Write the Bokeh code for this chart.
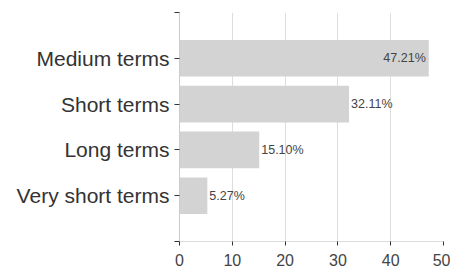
from bokeh.plotting import figure
from bokeh.models import ColumnDataSource, Range1d, FixedTicker
from bokeh.core.properties import value
from bokeh.embed import file_html
from bokeh.resources import INLINE

categories = ["Very short terms", "Long terms", "Short terms", "Medium terms"]
percents = [5.27, 15.10, 32.11, 47.21]
x_ticks = [0, 10, 20, 30, 40, 50]

ypos = list(range(1, len(categories) + 1))
labels = ["%.2f%%" % v for v in percents]

src = ColumnDataSource(dict(y=ypos, x=percents, label=labels))
inside = [i for i, v in enumerate(percents) if v > 40]
outside = [i for i, v in enumerate(percents) if v <= 40]
src_in = ColumnDataSource(dict(y=[ypos[i] for i in inside], x=[percents[i] for i in inside],
                               label=[labels[i] for i in inside]))
src_out = ColumnDataSource(dict(y=[ypos[i] for i in outside], x=[percents[i] for i in outside],
                                label=[labels[i] for i in outside]))

FONT = "Liberation Sans"

p = figure(width=450, height=271, output_backend="svg", toolbar_location=None,
           x_range=Range1d(0, 50), y_range=Range1d(0, len(categories) + 1),
           min_border_left=179, min_border_right=7, min_border_top=12, min_border_bottom=30)
p.outline_line_color = None
p.background_fill_color = "white"

p.hbar(y="y", right="x", left=0, height=0.8, source=src, fill_color="#d3d3d3", line_color=None)

p.text(x="x", y="y", text="label", source=src_in, text_align="right", text_baseline="middle",
       x_offset=-3, text_font=value(FONT), text_font_size="12.5px", text_color="#444444")
p.text(x="x", y="y", text="label", source=src_out, text_align="left", text_baseline="middle",
       x_offset=2, text_font=value(FONT), text_font_size="12.5px", text_color="#444444")

# x axis
p.xaxis.ticker = FixedTicker(ticks=x_ticks)
p.xaxis.axis_line_color = "#dddddd"
p.xaxis.major_tick_line_color = "#333333"
p.xaxis.major_tick_out = 4
p.xaxis.major_tick_in = 0
p.xaxis.minor_tick_line_color = None
p.xaxis.major_label_text_font = FONT
p.xaxis.major_label_text_font_size = "16px"
p.xaxis.major_label_text_color = "#444444"
p.xaxis.major_label_standoff = 8

# y axis
p.yaxis.ticker = FixedTicker(ticks=[0] + ypos + [len(categories) + 1])
overrides = {0: "", len(categories) + 1: ""}
for yy, c in zip(ypos, categories):
    overrides[yy] = c
p.yaxis.major_label_overrides = overrides
p.yaxis.axis_line_color = "#cccccc"
p.yaxis.major_tick_line_color = "#333333"
p.yaxis.major_tick_out = 5
p.yaxis.major_tick_in = 0
p.yaxis.minor_tick_line_color = None
p.yaxis.major_label_text_font = FONT
p.yaxis.major_label_text_font_size = "21px"
p.yaxis.major_label_text_color = "#333333"
p.yaxis.major_label_standoff = 5

p.xgrid.grid_line_color = "#dddddd"
p.ygrid.grid_line_color = None

open("out.html", "w").write(file_html(p, INLINE))
